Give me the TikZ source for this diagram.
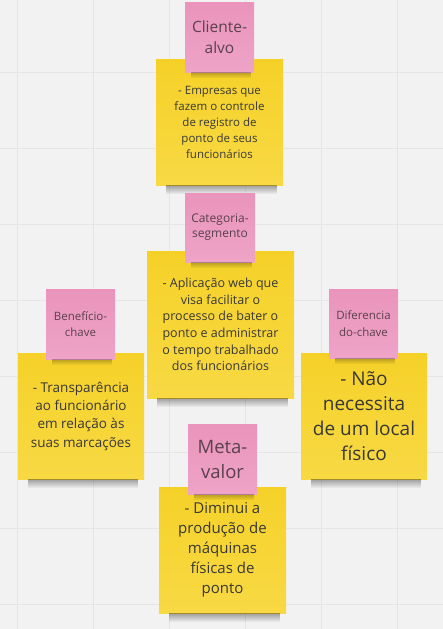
\documentclass[tikz,border=0pt]{standalone}
\usepackage{fontspec}
\setmainfont{Open Sans}
\usetikzlibrary{fadings}
\definecolor{board}{HTML}{F2F2F2}
\definecolor{gridline}{HTML}{E5E5E5}
\definecolor{stickyyellow}{HTML}{F5D128}
\definecolor{stickyyellowlight}{HTML}{F8D944}
\definecolor{stickypink}{HTML}{EA94BB}
\definecolor{stickypinklight}{HTML}{EEA3C7}
\definecolor{notetext}{HTML}{383838}
\definecolor{pinktext}{HTML}{5A4050}
\begin{document}
\begin{tikzpicture}[x=1pt, y=-1pt,
    yellownote/.style={rectangle, top color=stickyyellow, bottom color=stickyyellowlight,
        minimum width=126pt, minimum height=126pt, inner sep=0pt, text=notetext, align=center},
    pinknote/.style={rectangle, top color=stickypink, bottom color=stickypinklight,
        minimum width=69pt, minimum height=70pt, inner sep=0pt, text=pinktext, align=center},
    noteshadow/.style={fill=black, opacity=0.35, path fading=south}]

        \useasboundingbox (0, 0) rectangle (443, 629);
        \fill[board] (0, 0) rectangle (443, 629);

        \draw[gridline] (17, 0) -- (17, 629);
        \draw[gridline] (93, 0) -- (93, 629);
        \draw[gridline] (169, 0) -- (169, 629);
        \draw[gridline] (245, 0) -- (245, 629);
        \draw[gridline] (321, 0) -- (321, 629);
        \draw[gridline] (397, 0) -- (397, 629);
        \draw[gridline] (0, 72) -- (443, 72);
        \draw[gridline] (0, 148) -- (443, 148);
        \draw[gridline] (0, 224) -- (443, 224);
        \draw[gridline] (0, 300) -- (443, 300);
        \draw[gridline] (0, 376) -- (443, 376);
        \draw[gridline] (0, 452) -- (443, 452);
        \draw[gridline] (0, 528) -- (443, 528);
        \draw[gridline] (0, 604) -- (443, 604);

        \node[yellownote, minimum width=127pt, font=\fontsize{11.5}{16}\selectfont] (cliente) at (219.5, 122)
            {- Empresas que\\fazem o controle\\de registro de\\ponto de seus\\funcionários};
        \node[yellownote, minimum width=147pt, minimum height=147pt, font=\fontsize{12.5}{16.7}\selectfont] (categoria) at (220.5, 324.5)
            {- Aplicação web que\\visa facilitar o\\processo de bater o\\ponto e administrar\\o tempo trabalhado\\dos funcionários};
        \node[yellownote, font=\fontsize{13.5}{18.3}\selectfont] (beneficio) at (81, 416)
            {- Transparência\\ao funcionário\\em relação às\\suas marcações};
        \node[yellownote, font=\fontsize{19}{25}\selectfont] (diferencial) at (364, 416)
            {- Não\\necessita\\de um local\\físico};
        \node[yellownote, minimum width=127pt, font=\fontsize{15}{20}\selectfont] (meta) at (222.5, 550)
            {- Diminui a\\produção de\\máquinas\\físicas de\\ponto};

        \fill[noteshadow] ([xshift=10pt]cliente.south west) rectangle ([xshift=-6pt, yshift=-9pt]cliente.south east);
        \fill[noteshadow] ([xshift=10pt]categoria.south west) rectangle ([xshift=-6pt, yshift=-9pt]categoria.south east);
        \fill[noteshadow] ([xshift=10pt]beneficio.south west) rectangle ([xshift=-6pt, yshift=-9pt]beneficio.south east);
        \fill[noteshadow] ([xshift=10pt]diferencial.south west) rectangle ([xshift=-6pt, yshift=-9pt]diferencial.south east);
        \fill[noteshadow] ([xshift=10pt]meta.south west) rectangle ([xshift=-6pt, yshift=-9pt]meta.south east);

        \node[pinknote, font=\fontsize{15.5}{21}\selectfont] (clientetag) at (219.5, 37) {Cliente-\\alvo};
        \node[pinknote, minimum width=70pt, minimum height=69pt, font=\fontsize{12}{15}\selectfont] (categoriatag) at (220, 227.5) {Categoria-\\segmento};
        \node[pinknote, font=\fontsize{11.5}{16.5}\selectfont] (beneficiotag) at (80.5, 324) {Benefício-\\chave};
        \node[pinknote, minimum height=69pt, font=\fontsize{11.5}{16.5}\selectfont] (diferencialtag) at (363.5, 323.5) {Diferencia\\do-chave};
        \node[pinknote, font=\fontsize{18.5}{25}\selectfont] (metatag) at (222.5, 459) {Meta-\\valor};

        \fill[noteshadow, opacity=0.25] ([xshift=6pt]clientetag.south west) rectangle ([xshift=-3pt, yshift=-6pt]clientetag.south east);
        \fill[noteshadow, opacity=0.25] ([xshift=6pt]categoriatag.south west) rectangle ([xshift=-3pt, yshift=-6pt]categoriatag.south east);
        \fill[noteshadow, opacity=0.25] ([xshift=6pt]beneficiotag.south west) rectangle ([xshift=-3pt, yshift=-6pt]beneficiotag.south east);
        \fill[noteshadow, opacity=0.25] ([xshift=6pt]diferencialtag.south west) rectangle ([xshift=-3pt, yshift=-6pt]diferencialtag.south east);
        \fill[noteshadow, opacity=0.25] ([xshift=6pt]metatag.south west) rectangle ([xshift=-3pt, yshift=-6pt]metatag.south east);

    \end{tikzpicture}
\end{document}
